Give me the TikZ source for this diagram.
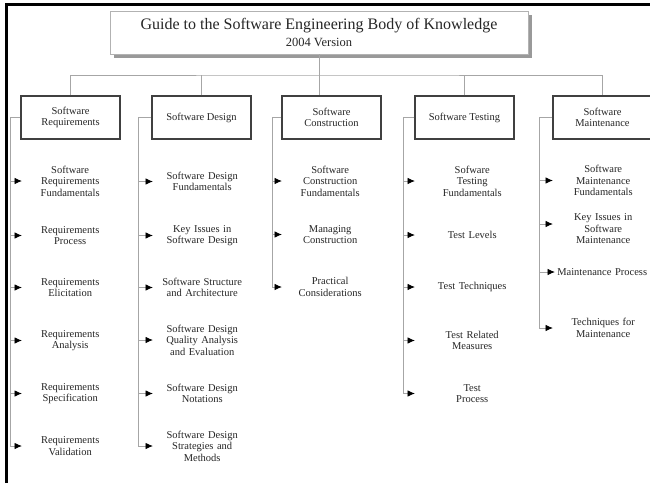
\documentclass[tikz,border=0pt]{standalone}
\usepackage{fontspec}
\setmainfont{Liberation Serif}
\usetikzlibrary{arrows.meta,shadows}
\begin{document}
\begin{tikzpicture}[x=1pt,y=-1pt,
  conn/.style={draw=black!35,line width=0.9pt},
  arr/.style={-{Latex[length=7.5pt,width=6.5pt,color=black]}},
  txt/.style={font=\fontsize{10.5}{11.5}\selectfont,text=black!85,align=center},
  topic/.style={txt,draw=black!75,line width=1.4pt,fill=white,minimum width=99pt,minimum height=43pt,inner sep=1pt},
  sub/.style={txt,anchor=west,inner sep=0pt},
  reqsub/.style={sub,text width=96pt},
  dessub/.style={sub,text width=98pt},
  consub/.style={sub,text width=96pt},
  tstsub/.style={sub,text width=114pt},
  maisub/.style={sub,text width=100pt}
]
\useasboundingbox (0,0) rectangle (650,485);
\fill[white] (0,0) rectangle (650,485);
% frame
\draw[line width=3pt,black] (6,483) -- (6,4) -- (652,4);
% title
\node[draw=black!30,line width=0.8pt,fill=white,minimum width=418pt,minimum height=43pt,inner sep=0pt,align=center,text=black!85,
  font=\fontsize{16}{17}\selectfont,
  drop shadow={shadow xshift=4pt,shadow yshift=-4pt,fill=black!40,opacity=1}] (title) at (319,32.5)
  {Guide to the Software Engineering Body of Knowledge\\[0pt]{\fontsize{12.5}{17}\selectfont 2004 Version}};
% topics
\node[topic] (req) at (70.5,117.5) {Software\\Requirements};
\node[topic] (des) at (201.5,117.5) {Software Design};
\node[topic] (con) at (331.5,117.5) {Software\\Construction};
\node[topic] (tst) at (464.5,117.5) {Software Testing};
\node[topic] (mai) at (602.5,117.5) {Software\\Maintenance};
\coordinate (bus) at (319,75);
\draw[conn] (title.south) -- (title.south |- con.north);
\draw[conn] (req.north) |- (bus) -| (mai.north);
\draw[conn] (des.north) -- (des.north |- bus);
\draw[conn] (tst.north) -- (tst.north |- bus);
% vertical line anchors
\coordinate (reqv) at (10,117.5);
\coordinate (desv) at (138,117.5);
\coordinate (conv) at (272,117.5);
\coordinate (tstv) at (403,117.5);
\coordinate (maiv) at (539,117.5);
% requirements
\node[reqsub] (rf) at (22,181) {Software\\Requirements\\Fundamentals};
\node[reqsub] (rp) at (22,235.5) {Requirements\\Process};
\node[reqsub] (re) at (22,287.5) {Requirements\\Elicitation};
\node[reqsub] (ra) at (22,340.5) {Requirements\\Analysis};
\node[reqsub] (rs) at (22,393.5) {Requirements\\Specification};
\node[reqsub] (rv) at (22,446) {Requirements\\Validation};
% design
\node[dessub] (df) at (153,181.5) {Software Design\\Fundamentals};
\node[dessub] (dk) at (153,235.5) {Key Issues in\\Software Design};
\node[dessub] (ds) at (153,287.5) {Software Structure\\and Architecture};
\node[dessub] (dq) at (153,340) {Software Design\\Quality Analysis\\and Evaluation};
\node[dessub] (dn) at (153,393.5) {Software Design\\Notations};
\node[dessub] (dm) at (153,446) {Software Design\\Strategies and\\Methods};
% construction
\node[consub] (cf) at (282,181) {Software\\Construction\\Fundamentals};
\node[consub] (cm) at (282,234.5) {Managing\\Construction};
\node[consub] (cp) at (282,287) {Practical\\Considerations};
% testing
\node[tstsub] (tf) at (415,181) {Sofware\\Testing\\Fundamentals};
\node[tstsub] (tl) at (415,235) {Test Levels};
\node[tstsub] (tt) at (415,287) {Test Techniques};
\node[tstsub] (tr) at (415,340.5) {Test Related\\Measures};
\node[tstsub] (tp) at (415,393.5) {Test\\Process};
% maintenance
\node[maisub] (mf) at (553,180.5) {Software\\Maintenance\\Fundamentals};
\node[maisub] (mk) at (553,229) {Key Issues in\\Software\\Maintenance};
\coordinate (mkin) at ([yshift=5pt]mk.west);
\node[sub,text width=94pt] (mp) at (555,272) {Maintenance Process};
\node[maisub] (mt) at (553,328) {Techniques for\\Maintenance};
% branch connectors
\draw[conn] (req.west) -- (reqv);
\draw[conn,arr] (reqv) |- (rv.west);
\foreach \n in {rf,rp,re,ra,rs} \draw[conn,arr] (reqv |- \n.west) -- (\n.west);
\draw[conn] (des.west) -- (desv);
\draw[conn,arr] (desv) |- (dm.west);
\foreach \n in {df,dk,ds,dq,dn} \draw[conn,arr] (desv |- \n.west) -- (\n.west);
\draw[conn] (con.west) -- (conv);
\draw[conn,arr] (conv) |- (cp.west);
\foreach \n in {cf,cm} \draw[conn,arr] (conv |- \n.west) -- (\n.west);
\draw[conn] (tst.west) -- (tstv);
\draw[conn,arr] (tstv) |- (tp.west);
\foreach \n in {tf,tl,tt,tr} \draw[conn,arr] (tstv |- \n.west) -- (\n.west);
\draw[conn] (mai.west) -- (maiv);
\draw[conn,arr] (maiv) |- (mt.west);
\draw[conn,arr] (maiv |- mf.west) -- (mf.west);
\draw[conn,arr] (maiv |- mkin) -- (mkin);
\draw[conn,arr] (maiv |- mp.west) -- (mp.west);
\end{tikzpicture}
\end{document}
